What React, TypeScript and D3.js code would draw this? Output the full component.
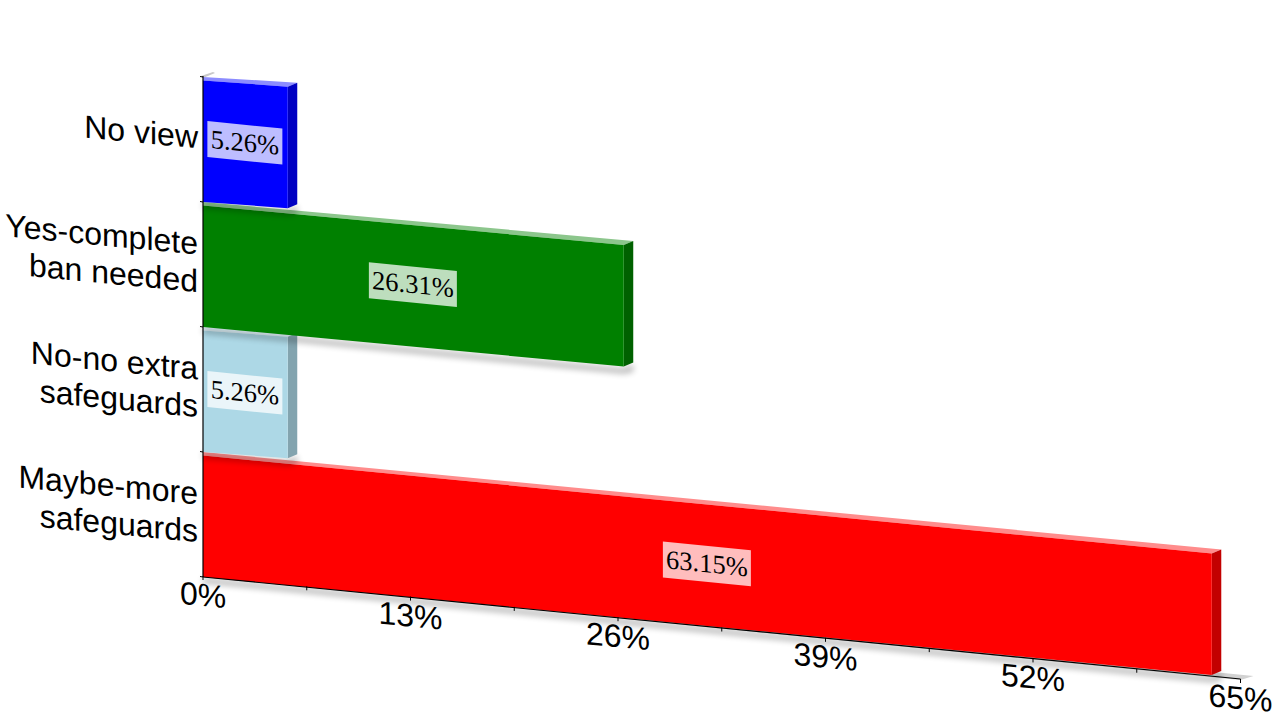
import React from "react";
import * as d3 from "d3";

const categories = ["No view", "Yes-complete ban needed", "No-no extra safeguards", "Maybe-more safeguards"];
const categoryLines = [["No view"], ["Yes-complete", "ban needed"], ["No-no extra", "safeguards"], ["Maybe-more", "safeguards"]];
const values = [5.26, 26.31, 5.26, 63.15];
const valueLabels = ["5.26%", "26.31%", "5.26%", "63.15%"];
const colors = ["#0000ff", "#008000", "#add8e6", "#ff0000"];
const xTicks = [0, 13, 26, 39, 52, 65];
const xMinorTicks = [6.5, 19.5, 32.5, 45.5, 58.5];

const x = d3.scaleLinear().domain([0, 65]).range([203, 1240.5]);
const y = d3.scaleBand<string>().domain(categories).range([77, 577]).padding(0);

const SLOPE = 0.0993;
const DEPTH_X = 9.5;
const DEPTH_Y = -4;
const LEAD = 3.5;
const BAR_END = 0.8;

// vertical travel of a bar's edge as it runs right along the tilted plane
const drop = (dx: number) => 0.0995 * dx - 2.3 * Math.min(1, dx / 85);
const axisY = (v: number) => 577 + (x(v) - x(0)) * SLOPE;
const pts = (p: number[][]) => p.map((a) => a.join(",")).join(" ");

const Bar = ({ i }: { i: number }) => {
  const c = categories[i];
  const x0 = x(0);
  const x1 = x(values[i]) + BAR_END;
  const d = drop(x1 - x0);
  const t = y(c)!;
  const b = t + y.bandwidth();
  const ft = t + LEAD;
  const rgb = d3.rgb(colors[i]);
  const side = d3.rgb(rgb.r * 0.76, rgb.g * 0.76, rgb.b * 0.76).formatHex();
  const topFace = d3.interpolateRgb(colors[i], "#ffffff")(0.55);
  const cx = (x0 + x1) / 2;
  const cy = (ft + b) / 2 + d / 2;
  const bw = valueLabels[i].length > 5 ? 88 : 75;
  return (
    <g>
      <polygon
        points={pts([[x0, b + 1], [x1, b + d + 2], [x1 + DEPTH_X, b + d + DEPTH_Y + 2], [x1 + DEPTH_X, b + d + 5], [x1, b + d + 7], [x0, b + 6]])}
        fill="#000"
        opacity={0.3}
        filter="url(#soft)"
      />
      <polygon points={pts([[x0, t], [x1 + DEPTH_X, ft + d + DEPTH_Y], [x1, ft + d], [x0, ft]])} fill={topFace} />
      <polygon points={pts([[x1, ft + d], [x1 + DEPTH_X, ft + d + DEPTH_Y], [x1 + DEPTH_X, b + d + DEPTH_Y], [x1, b + d]])} fill={side} />
      <polygon points={pts([[x0, ft], [x1, ft + d], [x1, b + d], [x0, b]])} fill={colors[i]} />
      <g transform={`matrix(1,0.1,0,1,${cx - 0.5},${cy - 1.5})`}>
        <rect x={-bw / 2} y={-18} width={bw} height={36} fill="#fff" fillOpacity={0.74} />
        <text x={0} y={8.5} textAnchor="middle" fontFamily="'Liberation Serif'" fontSize={26.5} textRendering="geometricPrecision" fill="#000">
          {valueLabels[i]}
        </text>
      </g>
    </g>
  );
};

const sans = "'Liberation Sans'";

export default function App() {
  const drawOrder = d3.range(categories.length).reverse();
  const x0 = x(0);
  const x1 = x(65);
  return (
    <svg width={1280} height={720} style={{ position: "absolute", left: 0, top: 0, display: "block" }}>
      <defs>
        <filter id="soft" x="-10%" y="-50%" width="120%" height="200%">
          <feGaussianBlur stdDeviation="3" />
        </filter>
      </defs>
      <rect width={1280} height={720} fill="#fff" />
      <polygon points={pts([[x0, 577], [x0 + 10, 573], [x1 + 13, axisY(65) - 4], [x1, axisY(65)]])} fill="#d2d2d2" />
      <polygon points={pts([[x0 - 2, 76], [x0 + 10, 72], [x0 + 12, 73], [x0, 78]])} fill="#c8c8c8" />
      {drawOrder.map((i) => (
        <Bar key={categories[i]} i={i} />
      ))}
      <line x1={x0} y1={76} x2={x0} y2={577} stroke="#000" strokeWidth={1.2} />
      <line x1={x0} y1={577} x2={x1} y2={axisY(65) - 1} stroke="#000" strokeWidth={1.2} />
      {[...categories.map((c) => y(c)!), 577].map((v) => (
        <line key={v} x1={x0 - 3} y1={v - 0.5} x2={x0} y2={v} stroke="#000" strokeWidth={1} />
      ))}
      {[...xTicks, ...xMinorTicks].map((v) => (
        <line key={v} x1={x(v)} y1={axisY(v) - 1} x2={x(v)} y2={axisY(v) + 3} stroke="#000" strokeWidth={1} />
      ))}
      {categoryLines.map((lines, i) => {
        const t = y(categories[i])!;
        const mid = t + y.bandwidth() / 2;
        const lh = 37.6;
        const start = mid - ((lines.length - 1) * lh) / 2 + 8.8;
        return lines.map((s, j) => (
          <text
            key={s + i}
            transform={`matrix(1,0.095,0,1,198,${start + j * lh})`}
            textAnchor="end"
            fontFamily={sans}
            fontSize={32}
            textRendering="geometricPrecision"
            fill="#000"
          >
            {s}
          </text>
        ));
      })}
      {xTicks.map((v) => (
        <text
          key={v}
          transform={`matrix(1,0.095,0,1,${x(v)},${axisY(v) + 29})`}
          textAnchor="middle"
          fontFamily={sans}
          fontSize={32}
          textRendering="geometricPrecision"
          fill="#000"
        >
          {`${v}%`}
        </text>
      ))}
    </svg>
  );
}
